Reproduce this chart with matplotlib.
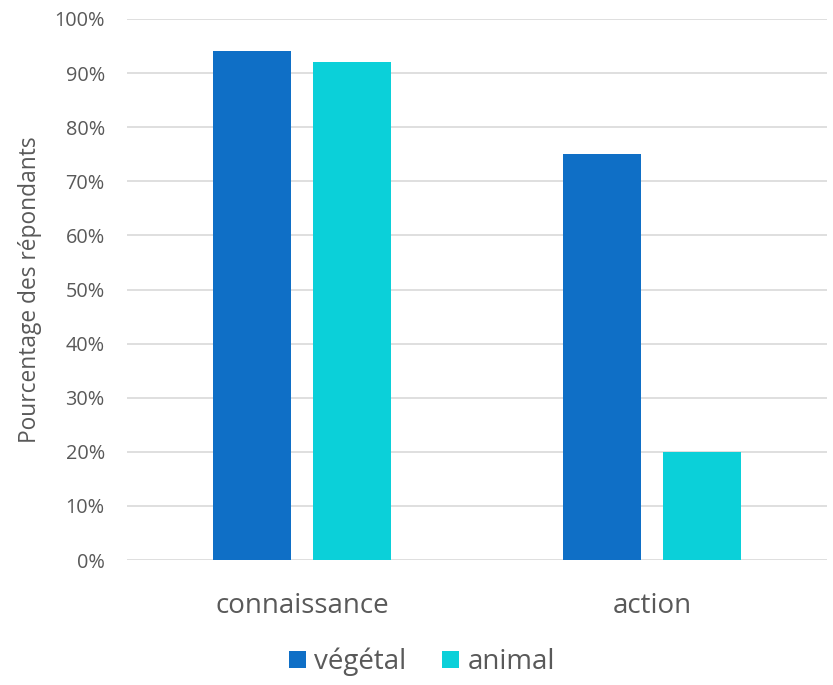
import numpy as np
import matplotlib
matplotlib.use("Agg")
import matplotlib.pyplot as plt
from matplotlib.ticker import PercentFormatter

plt.rcParams['font.family'] = ['Open Sans', 'DejaVu Sans']

categories = ['connaissance', 'action']
vegetal = [94, 75]
animal = [92, 20]
series_names = ['végétal', 'animal']

col_veg = '#0F6FC6'
col_ani = '#0BD0D9'
txt = '#595959'

fig = plt.figure(figsize=(8.33, 6.85), dpi=100)
ax = fig.add_axes([127 / 833, 1 - 560 / 685, 700 / 833, 541 / 685])

x = np.arange(len(categories))
w = 0.222
off = 0.1425
ax.bar(x - off, vegetal, w, color=col_veg, label=series_names[0], zorder=3)
ax.bar(x + off, animal, w, color=col_ani, label=series_names[1], zorder=3)

ax.set_xlim(-0.5, 1.5)
ax.set_ylim(0, 100)
ax.set_yticks(np.arange(0, 101, 10))
ax.yaxis.set_major_formatter(PercentFormatter(decimals=0))
ax.set_xticks(x)
ax.set_xticklabels(categories, fontsize=20, color=txt)
ax.tick_params(axis='y', labelsize=14.3, colors=txt, length=0, pad=16)
ax.tick_params(axis='x', length=0, pad=23)
ax.grid(axis='y', color='#D9D9D9', linewidth=1.2, zorder=0)
for s in ax.spines.values():
    s.set_visible(False)

ax.set_ylabel('Pourcentage des répondants', fontsize=16.4, color=txt, labelpad=9)

fig.legend(*ax.get_legend_handles_labels(), loc='center',
           bbox_to_anchor=(422 / 833, 1 - 662 / 685), ncol=2, frameon=False,
           fontsize=20, labelcolor=txt, handlelength=0.6, handleheight=0.6,
           handletextpad=0.3, columnspacing=1.3)

fig.savefig('out.png', dpi=100)
